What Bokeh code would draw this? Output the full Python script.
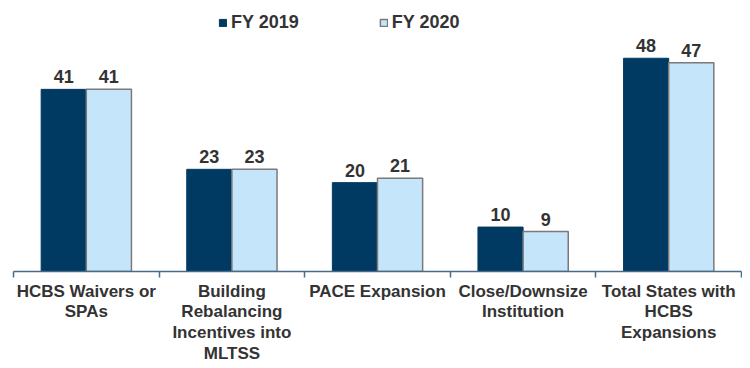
from bokeh.plotting import figure
from bokeh.models import ColumnDataSource, FixedTicker, LabelSet, Legend, LegendItem
from bokeh.transform import dodge
from bokeh.core.properties import value
from bokeh.embed import file_html
from bokeh.resources import INLINE

categories = ["HCBS Waivers or\nSPAs", "Building\nRebalancing\nIncentives into\nMLTSS",
              "PACE Expansion", "Close/Downsize\nInstitution", "Total States with\nHCBS\nExpansions"]
fy2019 = [41, 23, 20, 10, 48]
fy2020 = [41, 23, 21, 9, 47]
series_names = ["FY 2019", "FY 2020"]

xs = [i + 0.5 for i in range(len(categories))]
src = ColumnDataSource(dict(x=xs, a=fy2019, b=fy2020,
                            la=[str(v) for v in fy2019], lb=[str(v) for v in fy2020]))

FONT = "Liberation Sans"
TXT = "#333333"
DARK = "#003a63"
LIGHT = "#c5e5fb"

p = figure(frame_width=728, frame_height=263, x_range=(0, 5), y_range=(0, 59.2),
           output_backend="svg", toolbar_location=None, y_axis_location=None,
           min_border_left=13, min_border_right=1, min_border_top=8, min_border_bottom=0)
p.outline_line_color = None
p.xgrid.visible = False
p.ygrid.visible = False
p.background_fill_color = "white"

w = 0.31
r1 = p.vbar(x=dodge("x", -w / 2, range=p.x_range), top="a", width=w, source=src,
            fill_color=DARK, line_color=DARK, line_width=1)
r2 = p.vbar(x=dodge("x", w / 2, range=p.x_range), top="b", width=w, source=src,
            fill_color=LIGHT, line_color="#7a7a7a", line_width=1.5)

for col, lab, off in (("a", "la", -w / 2), ("b", "lb", w / 2)):
    ls = LabelSet(x=dodge("x", off, range=p.x_range), y=col, text=lab, source=src,
                  text_align="center", text_baseline="bottom", y_offset=6,
                  text_font=value(FONT), text_font_style="bold", text_font_size="18px",
                  text_color=TXT)
    p.add_layout(ls)

ax = p.xaxis[0]
ax.ticker = FixedTicker(ticks=xs, minor_ticks=[0, 1, 2, 3, 4, 5])
ax.major_label_overrides = {x: c for x, c in zip(xs, categories)}
ax.major_tick_out = 0
ax.major_tick_in = 0
ax.minor_tick_out = 6
ax.minor_tick_in = 0
ax.minor_tick_line_color = "#4a6a8a"
ax.axis_line_color = "#4a6a8a"
ax.axis_line_width = 1.5
ax.minor_tick_line_width = 1.5
ax.major_label_standoff = 4
ax.major_label_text_font = FONT
ax.major_label_text_font_style = "bold"
ax.major_label_text_font_size = "17px"
ax.major_label_text_color = TXT
ax.major_label_text_line_height = 1.1

legend = Legend(items=[LegendItem(label=series_names[0], renderers=[r1]),
                       LegendItem(label=series_names[1], renderers=[r2])],
                orientation="horizontal", location=(205, 238),
                glyph_width=9, glyph_height=9, label_standoff=4, spacing=80,
                padding=0, margin=0, border_line_color=None, background_fill_alpha=0,
                label_text_font=FONT, label_text_font_style="bold",
                label_text_font_size="18px", label_text_color=TXT)
p.add_layout(legend)

open("out.html", "w").write(file_html(p, INLINE))
